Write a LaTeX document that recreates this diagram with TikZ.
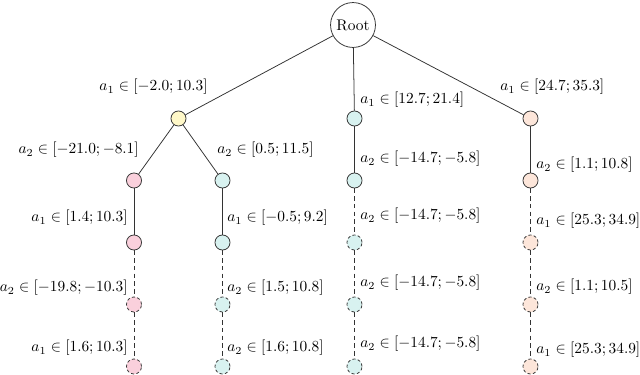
\documentclass[tikz,border=0pt]{standalone}
\usepackage{amsmath}
\definecolor{cyel}{HTML}{FFF8C8}
\definecolor{cpink}{HTML}{FAD0DC}
\definecolor{cteal}{HTML}{D8F2F0}
\definecolor{cpeach}{HTML}{FDE6DA}
\definecolor{cline}{HTML}{333333}
\begin{document}
\begin{tikzpicture}[x=0.65pt,y=-0.65pt,
  rootnode/.style={circle,draw=cline,line width=0.5pt,minimum size=29.2pt,inner sep=0pt,font=\normalsize},
  leaf/.style={circle,draw=cline,line width=0.5pt,minimum size=9.8pt,inner sep=0pt},
  dleaf/.style={leaf,dashed,dash pattern=on 2pt off 1.5pt},
  edge/.style={draw=cline,line width=0.5pt},
  dedge/.style={edge,dash pattern=on 3pt off 2pt},
  lab/.style={inner sep=0pt}]
\useasboundingbox (0,0) rectangle (640,374);
% nodes
\node[rootnode] (root) at (353,25) {Root};
\node[leaf,fill=cyel] (y1) at (178.5,118.5) {};
\node[leaf,fill=cteal] (t1) at (354.5,118.5) {};
\node[leaf,fill=cpeach] (o1) at (530.5,118.5) {};
\node[leaf,fill=cpink] (p2) at (134,180.5) {};
\node[leaf,fill=cteal] (s2) at (222.5,180.5) {};
\node[leaf,fill=cteal] (t2) at (354.5,180.5) {};
\node[leaf,fill=cpeach] (o2) at (530.5,180.5) {};
\node[leaf,fill=cpink] (p3) at (134,242.5) {};
\node[leaf,fill=cteal] (s3) at (222.5,242.5) {};
\node[dleaf,fill=cteal] (t3) at (354.5,242.5) {};
\node[dleaf,fill=cpeach] (o3) at (530.5,242.5) {};
\node[dleaf,fill=cpink] (p4) at (134,304.5) {};
\node[dleaf,fill=cteal] (s4) at (222.5,304.5) {};
\node[dleaf,fill=cteal] (t4) at (354.5,304.5) {};
\node[dleaf,fill=cpeach] (o4) at (530.5,304.5) {};
\node[dleaf,fill=cpink] (p5) at (134,366.5) {};
\node[dleaf,fill=cteal] (s5) at (222.5,366.5) {};
\node[dleaf,fill=cteal] (t5) at (354.5,366.5) {};
\node[dleaf,fill=cpeach] (o5) at (530.5,366.5) {};
% edges
\path[edge] (root) -- (y1);
\path[edge] (root) -- (t1);
\path[edge] (root) -- (o1);
\path[edge] (y1) -- (p2);
\path[edge] (y1) -- (s2);
\path[edge] (t1) -- (t2);
\path[edge] (o1) -- (o2);
\path[edge] (p2) -- (p3);
\path[edge] (s2) -- (s3);
\path[dedge] (t2) -- (t3);
\path[dedge] (o2) -- (o3);
\path[dedge] (p3) -- (p4);
\path[dedge] (s3) -- (s4);
\path[dedge] (t3) -- (t4);
\path[dedge] (o3) -- (o4);
\path[dedge] (p4) -- (p5);
\path[dedge] (s4) -- (s5);
\path[dedge] (t4) -- (t5);
\path[dedge] (o4) -- (o5);
% labels
\node[lab,anchor=east] (l1a) at (208,87) {$a_1\in[-2.0;10.3]$};
\node[lab,anchor=west] (l1b) at (360,100) {$a_1\in[12.7;21.4]$};
\node[lab,anchor=west] (l1c) at (500,87) {$a_1\in[24.7;35.3]$};
\node[lab,anchor=east] (l2a) at (139,150) {$a_2\in[-21.0;-8.1]$};
\node[lab,anchor=west] (l2b) at (217,150) {$a_2\in[0.5;11.5]$};
\node[lab,anchor=west] (l2c) at (360,159) {$a_2\in[-14.7;-5.8]$};
\node[lab,anchor=west] (l2d) at (536,165) {$a_2\in[1.1;10.8]$};
\node[lab,anchor=east] (l3a) at (128,218) {$a_1\in[1.4;10.3]$};
\node[lab,anchor=west] (l3b) at (227,218) {$a_1\in[-0.5;9.2]$};
\node[lab,anchor=west] (l3c) at (360,216) {$a_2\in[-14.7;-5.8]$};
\node[lab,anchor=west] (l3d) at (536,221) {$a_1\in[25.3;34.9]$};
\node[lab,anchor=east] (l4a) at (128,288) {$a_2\in[-19.8;-10.3]$};
\node[lab,anchor=west] (l4b) at (227,288) {$a_2\in[1.5;10.8]$};
\node[lab,anchor=west] (l4c) at (360,283) {$a_2\in[-14.7;-5.8]$};
\node[lab,anchor=west] (l4d) at (536,287) {$a_2\in[1.1;10.5]$};
\node[lab,anchor=east] (l5a) at (128,348) {$a_1\in[1.6;10.3]$};
\node[lab,anchor=west] (l5b) at (227,348) {$a_2\in[1.6;10.8]$};
\node[lab,anchor=west] (l5c) at (360,344) {$a_2\in[-14.7;-5.8]$};
\node[lab,anchor=west] (l5d) at (536,350) {$a_1\in[25.3;34.9]$};
\end{tikzpicture}
\end{document}
